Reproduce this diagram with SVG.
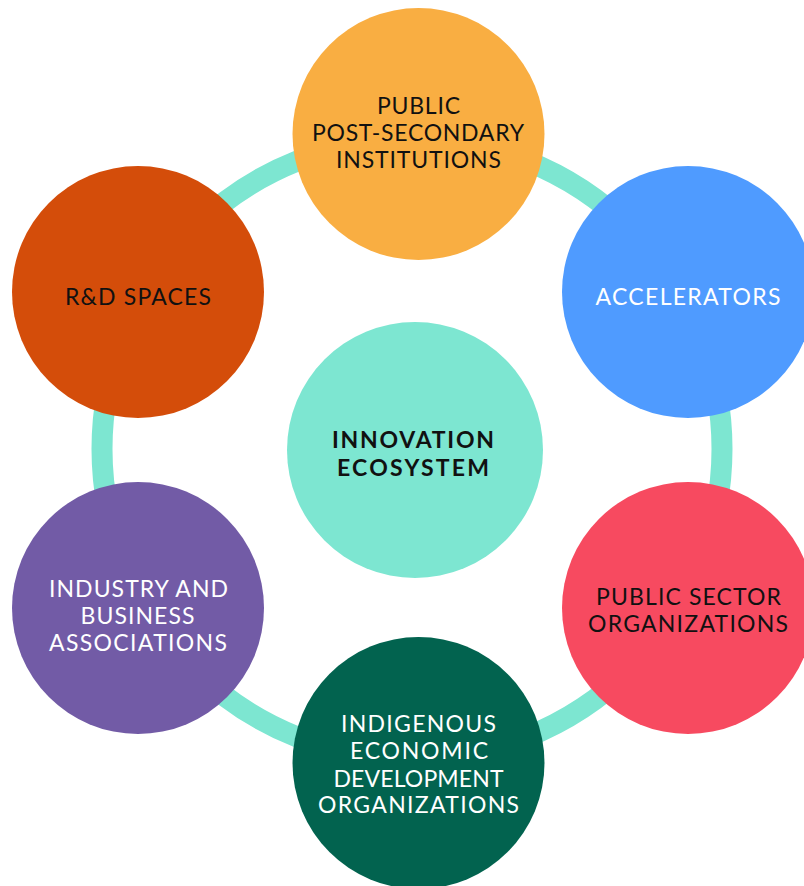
<svg xmlns="http://www.w3.org/2000/svg" width="804" height="886" viewBox="0 0 804 886">
<style>
.t{font-family:Lato,"Open Sans","Liberation Sans",sans-serif;font-size:23px;text-anchor:middle}
.dk{fill:#111111}
.wt{fill:#ffffff}
.b{font-weight:bold}
</style>
<rect width="804" height="886" fill="#ffffff"/>
<g id="connectors">
<circle cx="412" cy="449" r="310" fill="none" stroke="#7DE6D1" stroke-width="21"/>
</g>
<g id="center">
<circle cx="415" cy="450" r="128" fill="#7DE6D1"/>
<text class="t dk b" x="413" y="448" textLength="162" lengthAdjust="spacing">INNOVATION</text>
<text class="t dk b" x="413" y="476" textLength="152" lengthAdjust="spacing">ECOSYSTEM</text>
</g>
<g id="public-post-secondary">
<circle cx="418.5" cy="134" r="126" fill="#F9AE42"/>
<text class="t dk" x="418.5" y="114" textLength="83" lengthAdjust="spacing">PUBLIC</text>
<text class="t dk" x="418" y="141" textLength="212" lengthAdjust="spacing">POST-SECONDARY</text>
<text class="t dk" x="418.5" y="168" textLength="165" lengthAdjust="spacing">INSTITUTIONS</text>
</g>
<g id="accelerators">
<circle cx="688" cy="292" r="126" fill="#4F9BFF"/>
<text class="t wt" x="688" y="305" textLength="185" lengthAdjust="spacing">ACCELERATORS</text>
</g>
<g id="public-sector">
<circle cx="688" cy="608" r="126" fill="#F74A60"/>
<text class="t dk" x="688.5" y="605" textLength="185" lengthAdjust="spacing">PUBLIC SECTOR</text>
<text class="t dk" x="688" y="632" textLength="200" lengthAdjust="spacing">ORGANIZATIONS</text>
</g>
<g id="indigenous">
<circle cx="418.5" cy="763" r="126" fill="#02634F"/>
<text class="t wt" x="418.5" y="732" textLength="155" lengthAdjust="spacing">INDIGENOUS</text>
<text class="t wt" x="419" y="759" textLength="138" lengthAdjust="spacing">ECONOMIC</text>
<text class="t wt" x="418.5" y="787" textLength="170" lengthAdjust="spacing">DEVELOPMENT</text>
<text class="t wt" x="418.5" y="813" textLength="201" lengthAdjust="spacing">ORGANIZATIONS</text>
</g>
<g id="industry">
<circle cx="138" cy="608" r="126" fill="#725BA6"/>
<text class="t wt" x="138.5" y="597" textLength="179" lengthAdjust="spacing">INDUSTRY AND</text>
<text class="t wt" x="137.5" y="624" textLength="114" lengthAdjust="spacing">BUSINESS</text>
<text class="t wt" x="138" y="651" textLength="178" lengthAdjust="spacing">ASSOCIATIONS</text>
</g>
<g id="rd-spaces">
<circle cx="138" cy="292" r="126" fill="#D44D0A"/>
<text class="t dk" x="138" y="305" textLength="146" lengthAdjust="spacing">R&amp;D SPACES</text>
</g>
</svg>
